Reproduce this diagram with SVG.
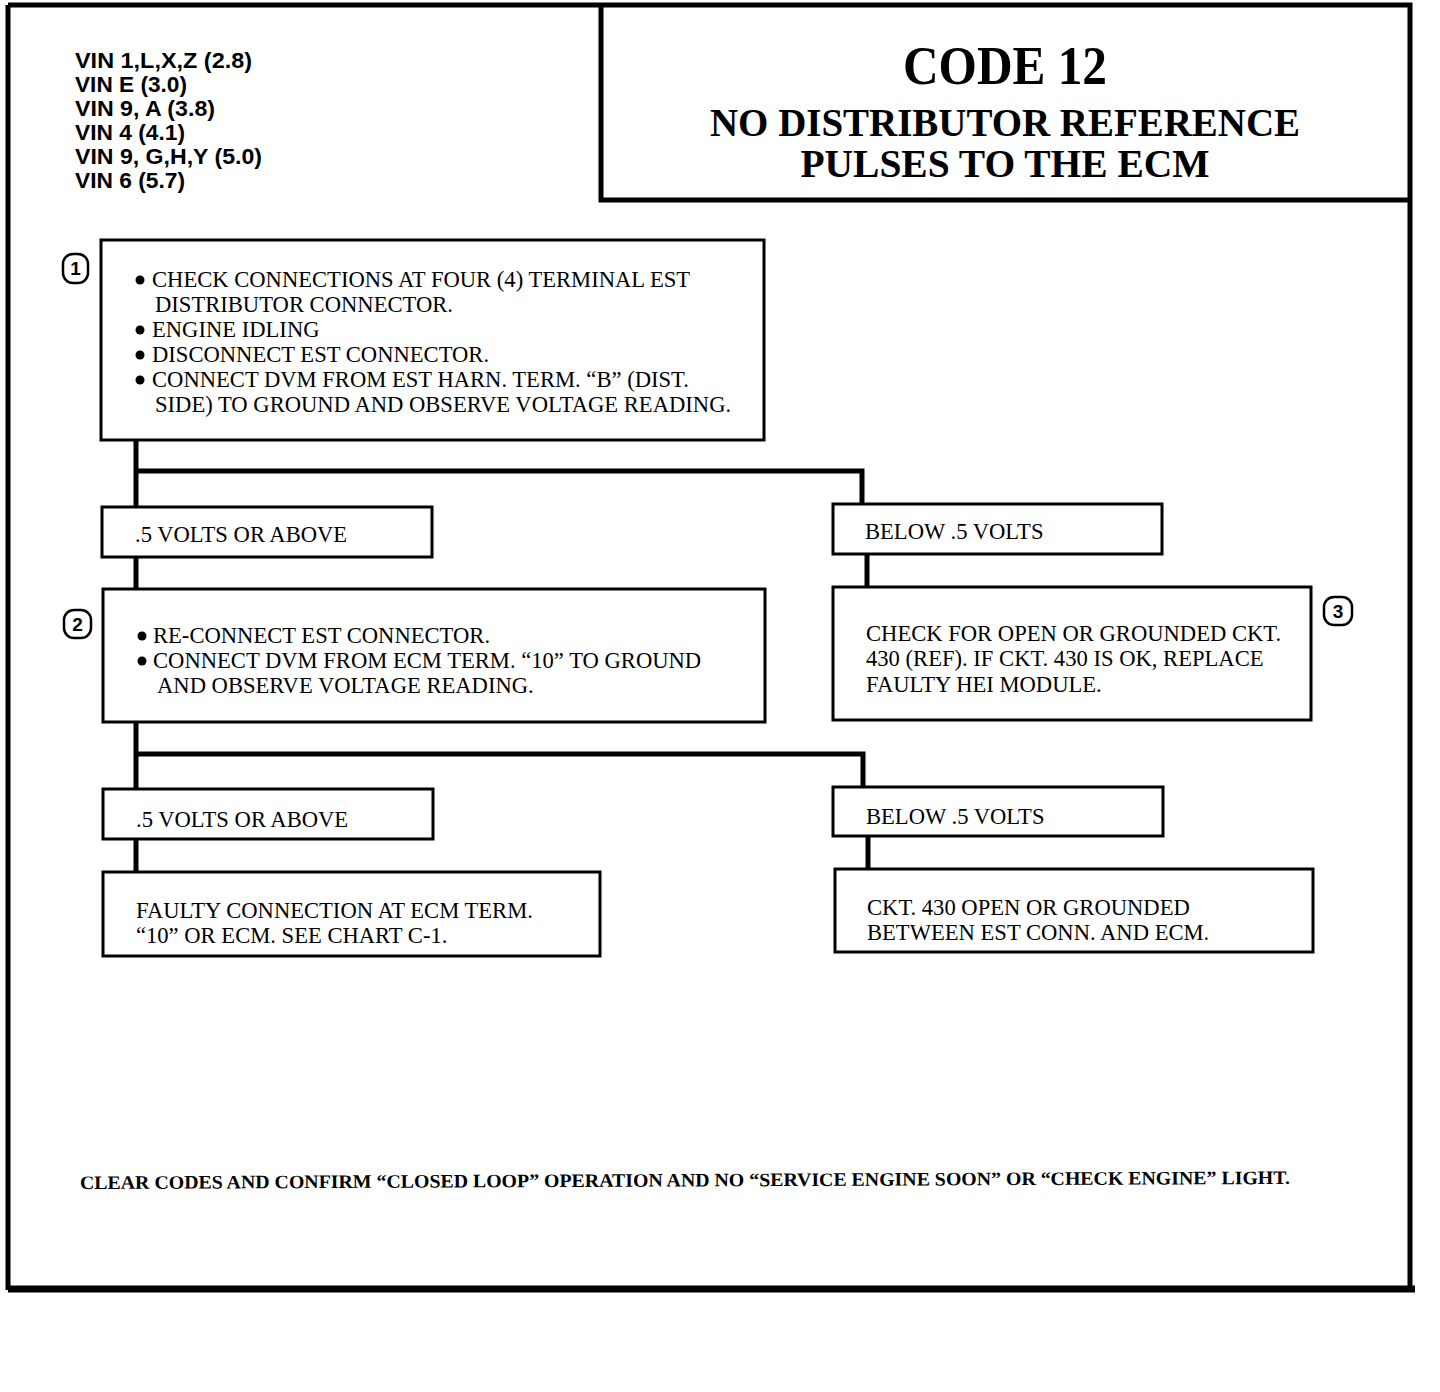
<svg xmlns="http://www.w3.org/2000/svg" width="1440" height="1392" viewBox="0 0 1440 1392">
<style>
.frame{fill:none;stroke:#000;stroke-width:5}
.box{fill:#fff;stroke:#000;stroke-width:3}
.conn{fill:none;stroke:#000;stroke-width:5}
.t{font-family:"Liberation Serif","Times New Roman",serif;font-size:22.6px;fill:#000}
.vin{font-family:"Liberation Sans",Arial,sans-serif;font-weight:bold;font-size:22px;fill:#000}
.title{font-family:"Liberation Serif","Times New Roman",serif;font-weight:bold;fill:#000;text-anchor:middle}
.num{fill:#fff;stroke:#000;stroke-width:2.5}
.numt{font-family:"Liberation Sans",Arial,sans-serif;font-weight:bold;font-size:19px;fill:#000;text-anchor:middle}
.foot{font-family:"Liberation Serif","Times New Roman",serif;font-weight:bold;font-size:19px;fill:#000}
</style>
<rect width="1440" height="1392" fill="#fff"/>
<g id="frame">
<path class="frame" d="M8,5 H1410 V1292 M8,5 V1290"/>
<path d="M8,1289 H1415" stroke="#000" stroke-width="7"/>
</g>
<g id="vin-list">
<text class="vin" x="75" y="68" textLength="177" lengthAdjust="spacingAndGlyphs">VIN 1,L,X,Z (2.8)</text>
<text class="vin" x="75" y="92" textLength="112" lengthAdjust="spacingAndGlyphs">VIN E (3.0)</text>
<text class="vin" x="75" y="116" textLength="140" lengthAdjust="spacingAndGlyphs">VIN 9, A (3.8)</text>
<text class="vin" x="75" y="140" textLength="110" lengthAdjust="spacingAndGlyphs">VIN 4 (4.1)</text>
<text class="vin" x="75" y="164" textLength="187" lengthAdjust="spacingAndGlyphs">VIN 9, G,H,Y (5.0)</text>
<text class="vin" x="75" y="188" textLength="110" lengthAdjust="spacingAndGlyphs">VIN 6 (5.7)</text>
</g>
<g id="title">
<path class="frame" d="M601,5 V200 H1408"/>
<text class="title" x="1005" y="84" font-size="54" textLength="204" lengthAdjust="spacingAndGlyphs">CODE 12</text>
<text class="title" x="1005" y="136" font-size="41" textLength="590" lengthAdjust="spacingAndGlyphs">NO DISTRIBUTOR REFERENCE</text>
<text class="title" x="1005" y="177" font-size="41" textLength="409" lengthAdjust="spacingAndGlyphs">PULSES TO THE ECM</text>
</g>
<g id="connectors">
<path class="conn" d="M136,440 V507"/>
<path class="conn" d="M136,471 H862 V504"/>
<path class="conn" d="M136,557 V589"/>
<path class="conn" d="M867,554 V587"/>
<path class="conn" d="M136,722 V789"/>
<path class="conn" d="M136,754 H863 V787"/>
<path class="conn" d="M136,839 V872"/>
<path class="conn" d="M868,836 V869"/>
</g>
<g id="step1">
<rect class="box" x="101" y="240" width="663" height="200"/>
<rect class="num" x="63" y="254" width="25" height="29" rx="10"/>
<text class="numt" x="75.5" y="275">1</text>
<circle cx="140" cy="280" r="4.5"/>
<text class="t" x="152" y="287">CHECK CONNECTIONS AT FOUR (4) TERMINAL EST</text>
<text class="t" x="155" y="312">DISTRIBUTOR CONNECTOR.</text>
<circle cx="140" cy="330" r="4.5"/>
<text class="t" x="152" y="337">ENGINE IDLING</text>
<circle cx="140" cy="355" r="4.5"/>
<text class="t" x="152" y="362">DISCONNECT EST CONNECTOR.</text>
<circle cx="140" cy="380" r="4.5"/>
<text class="t" x="152" y="387">CONNECT DVM FROM EST HARN. TERM. “B” (DIST.</text>
<text class="t" x="155" y="412">SIDE) TO GROUND AND OBSERVE VOLTAGE READING.</text>
</g>
<g id="result1-above">
<rect class="box" x="102" y="507" width="330" height="50"/>
<text class="t" x="135" y="542">.5 VOLTS OR ABOVE</text>
</g>
<g id="result1-below">
<rect class="box" x="833" y="504" width="329" height="50"/>
<text class="t" x="865" y="539">BELOW .5 VOLTS</text>
</g>
<g id="step2">
<rect class="box" x="103" y="589" width="662" height="133"/>
<rect class="num" x="64" y="610" width="27" height="28" rx="10"/>
<text class="numt" x="77.5" y="631">2</text>
<circle cx="142" cy="636" r="4.5"/>
<text class="t" x="153" y="643">RE-CONNECT EST CONNECTOR.</text>
<circle cx="142" cy="661" r="4.5"/>
<text class="t" x="153" y="668">CONNECT DVM FROM ECM TERM. “10” TO GROUND</text>
<text class="t" x="157" y="693">AND OBSERVE VOLTAGE READING.</text>
</g>
<g id="step3">
<rect class="box" x="833" y="587" width="478" height="133"/>
<rect class="num" x="1324" y="597" width="28" height="28" rx="10"/>
<text class="numt" x="1338" y="618">3</text>
<text class="t" x="866" y="641">CHECK FOR OPEN OR GROUNDED CKT.</text>
<text class="t" x="866" y="666">430 (REF). IF CKT. 430 IS OK, REPLACE</text>
<text class="t" x="866" y="692">FAULTY HEI MODULE.</text>
</g>
<g id="result2-above">
<rect class="box" x="103" y="789" width="330" height="50"/>
<text class="t" x="136" y="827">.5 VOLTS OR ABOVE</text>
</g>
<g id="result2-below">
<rect class="box" x="833" y="787" width="330" height="49"/>
<text class="t" x="866" y="824">BELOW .5 VOLTS</text>
</g>
<g id="outcome-ecm">
<rect class="box" x="103" y="872" width="497" height="84"/>
<text class="t" x="136" y="918">FAULTY CONNECTION AT ECM TERM.</text>
<text class="t" x="136" y="943">“10” OR ECM. SEE CHART C-1.</text>
</g>
<g id="outcome-ckt">
<rect class="box" x="835" y="869" width="478" height="83"/>
<text class="t" x="867" y="915">CKT. 430 OPEN OR GROUNDED</text>
<text class="t" x="867" y="940">BETWEEN EST CONN. AND ECM.</text>
</g>
<g id="footer">
<text class="foot" x="80" y="1189" textLength="1210" lengthAdjust="spacingAndGlyphs" transform="rotate(-0.24 80 1189)">CLEAR CODES AND CONFIRM “CLOSED LOOP” OPERATION AND NO “SERVICE ENGINE SOON” OR “CHECK ENGINE” LIGHT.</text>
</g>
</svg>
